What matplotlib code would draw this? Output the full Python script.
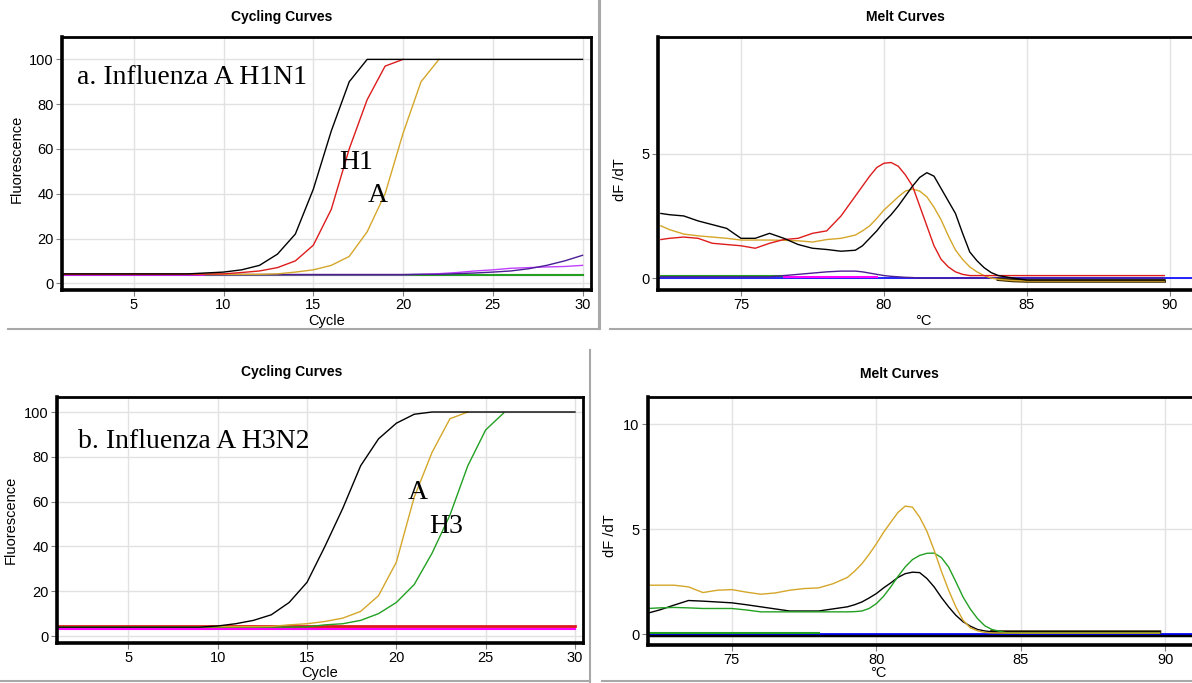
import matplotlib
matplotlib.use("Agg")
import matplotlib.pyplot as plt
from matplotlib.lines import Line2D

plt.rcParams['font.family'] = ['Liberation Sans', 'DejaVu Sans']

W, H = 1192, 683

# ---- data: cycling curves, panel a (H1N1) ----
cycles = list(range(1, 31))
a_black = [4.2, 4.2, 4.2, 4.2, 4.2, 4.2, 4.2, 4.2, 4.6, 5.0, 6.0, 8.0, 13.0, 22.0, 42.0,
           68.0, 90.0, 100, 100, 100, 100, 100, 100, 100, 100, 100, 100, 100, 100, 100]
a_red = [4.1, 4.1, 4.1, 4.1, 4.1, 4.1, 4.1, 4.1, 4.1, 4.2, 4.8, 5.5, 7.0, 10.0, 17.0,
         33.0, 60.0, 82.0, 97.0, 100]
a_gold = [4.0, 4.0, 4.0, 4.0, 4.0, 4.0, 4.0, 4.0, 4.0, 4.0, 4.0, 4.0, 4.2, 5.0, 6.0,
          8.0, 12.0, 23.0, 40.0, 67.0, 90.0, 100]
a_magenta = [3.5, 3.5, 3.5, 3.5, 3.5, 3.5, 3.5, 3.5, 3.5, 3.5, 3.5, 3.5, 3.5, 3.5, 3.5,
             3.5, 3.5, 3.5, 3.5, 3.5, 3.5, 3.5, 3.5, 3.5, 3.5, 3.5, 3.5, 3.5, 3.5, 3.5]
a_green = [3.9, 3.9, 3.9, 3.9, 3.9, 3.9, 3.9, 3.9, 3.9, 3.9, 3.9, 3.9, 3.9, 3.9, 3.9,
           3.9, 3.9, 3.9, 3.9, 3.9, 3.9, 3.9, 3.9, 3.9, 3.9, 3.9, 3.9, 3.9, 3.9, 3.9]
a_purple = [3.9, 3.9, 3.9, 3.9, 3.9, 3.9, 3.9, 3.9, 3.9, 3.9, 3.9, 3.9, 3.9, 3.9, 3.9,
            3.9, 3.9, 3.9, 3.9, 3.9, 4.0, 4.0, 4.3, 4.6, 5.0, 5.5, 6.5, 8.0, 10.0, 12.5]
a_violet = [3.8, 3.8, 3.8, 3.8, 3.8, 3.8, 3.8, 3.8, 3.8, 3.8, 3.8, 3.8, 3.8, 3.8, 3.8,
            3.8, 3.8, 3.8, 3.8, 3.8, 4.0, 4.3, 4.8, 5.5, 6.0, 6.7, 7.0, 7.3, 7.5, 8.0]

# ---- data: cycling curves, panel b (H3N2) ----
b_black = [4.0, 4.0, 4.0, 4.0, 4.0, 4.0, 4.0, 4.0, 4.0, 4.5, 5.5, 7.0, 9.5, 15.0, 24.0,
           40.0, 57.0, 76.0, 88.0, 95.0, 99.0, 100, 100, 100, 100, 100, 100, 100, 100, 100]
b_gold = [4.2, 4.2, 4.2, 4.2, 4.2, 4.2, 4.2, 4.2, 4.2, 4.2, 4.2, 4.2, 4.3, 5.0, 5.5,
          6.5, 8.0, 11.0, 18.0, 33.0, 62.0, 82.0, 97.0, 100]
b_green = [4.0, 4.0, 4.0, 4.0, 4.0, 4.0, 4.0, 4.0, 4.0, 4.0, 4.0, 4.0, 4.0, 4.0, 4.1,
           5.0, 5.5, 7.0, 10.0, 15.0, 23.0, 37.0, 54.0, 76.0, 92.0, 99.5]
b_red = [4.6, 4.6, 4.6, 4.6, 4.6, 4.6, 4.6, 4.6, 4.6, 4.6, 4.6, 4.6, 4.6, 4.6, 4.6,
         4.6, 4.6, 4.6, 4.6, 4.6, 4.6, 4.6, 4.6, 4.6, 4.6, 4.6, 4.6, 4.6, 4.6, 4.6]
b_pink = [4.0, 4.0, 4.0, 4.0, 4.0, 4.0, 4.0, 4.0, 4.0, 4.0, 4.0, 4.0, 4.0, 4.0, 4.0,
          4.0, 4.0, 4.0, 4.0, 4.0, 4.0, 4.0, 4.0, 4.0, 4.0, 4.0, 4.0, 4.0, 4.0, 4.0]
b_magenta = [3.3, 3.3, 3.3, 3.3, 3.3, 3.3, 3.3, 3.3, 3.3, 3.3, 3.3, 3.3, 3.3, 3.3, 3.3,
             3.3, 3.3, 3.3, 3.3, 3.3, 3.3, 3.3, 3.3, 3.3, 3.3, 3.3, 3.3, 3.3, 3.3, 3.3]

# ---- data: melt curves, panel a ----
temp = [72.2, 72.5, 73, 73.5, 74, 74.5, 75, 75.5, 76, 76.5, 77, 77.5, 78, 78.5,
        79, 79.25, 79.5, 79.75, 80, 80.25, 80.5, 80.75, 81, 81.25, 81.5, 81.75,
        82, 82.25, 82.5, 82.75, 83, 83.25, 83.5, 83.75, 84, 84.5, 85, 89.8]
ma_black = [2.6, 2.55, 2.5, 2.3, 2.15, 2.0, 1.6, 1.6, 1.8, 1.6, 1.35, 1.2, 1.15, 1.08,
            1.12, 1.3, 1.6, 1.9, 2.26, 2.55, 2.9, 3.3, 3.7, 4.05, 4.24, 4.1,
            3.6, 3.1, 2.6, 1.8, 1.05, 0.7, 0.42, 0.22, 0.1, 0.0, -0.08, -0.08]
ma_red = [1.55, 1.6, 1.65, 1.6, 1.4, 1.35, 1.3, 1.2, 1.4, 1.55, 1.6, 1.8, 1.9, 2.5,
          3.3, 3.7, 4.1, 4.45, 4.62, 4.65, 4.5, 4.15, 3.7, 2.9, 2.1, 1.3,
          0.75, 0.45, 0.25, 0.15, 0.1, 0.1, 0.1, 0.1, 0.1, 0.1, 0.1, 0.1]
ma_gold = [2.1, 1.95, 1.77, 1.7, 1.65, 1.6, 1.53, 1.53, 1.53, 1.52, 1.5, 1.45, 1.55, 1.6,
           1.73, 1.9, 2.1, 2.4, 2.74, 3.0, 3.27, 3.5, 3.58, 3.5, 3.27, 2.85,
           2.34, 1.7, 1.13, 0.75, 0.45, 0.25, 0.1, 0.0, -0.05, -0.1, -0.12, -0.12]
ma_purple = [0.05, 0.05, 0.05, 0.05, 0.05, 0.05, 0.05, 0.05, 0.05, 0.1, 0.15, 0.2, 0.25,
             0.28, 0.28, 0.25, 0.2, 0.15, 0.1, 0.07, 0.05, 0.03, 0.02, 0.0, 0.0, 0.0,
             0.0, 0.0, 0.0, 0.0, 0.0, 0.0, 0.0, 0.0, 0.0, 0.0, 0.0, 0.0]
ma_green = [0.08, 0.08, 0.08, 0.08, 0.08, 0.08, 0.08, 0.08, 0.08, 0.08]
ma_magenta = [0.05, 0.05, 0.05, 0.05, 0.05, 0.05, 0.05, 0.05, 0.05]

# ---- data: melt curves, panel b ----
temp_b = [72.1, 72.5, 73, 73.5, 74, 74.5, 75, 75.5, 76, 76.5, 77, 77.5, 78, 78.5,
          79, 79.25, 79.5, 79.75, 80, 80.25, 80.5, 80.75, 81, 81.25, 81.5, 81.75,
          82, 82.25, 82.5, 82.75, 83, 83.25, 83.5, 83.75, 84, 84.5, 85, 89.8]
mb_gold = [2.33, 2.33, 2.33, 2.25, 1.98, 2.09, 2.12, 2.0, 1.9, 1.96, 2.09, 2.17, 2.2, 2.4,
           2.7, 3.0, 3.35, 3.8, 4.3, 4.85, 5.33, 5.8, 6.1, 6.05, 5.57, 4.9,
           4.0, 3.0, 2.1, 1.3, 0.66, 0.3, 0.16, 0.08, 0.06, 0.05, 0.05, 0.05]
mb_green = [1.22, 1.25, 1.27, 1.25, 1.22, 1.22, 1.22, 1.15, 1.06, 1.06, 1.06, 1.06, 1.06,
            1.06, 1.06, 1.07, 1.1, 1.22, 1.45, 1.8, 2.25, 2.75, 3.2, 3.55, 3.75, 3.85,
            3.86, 3.65, 3.2, 2.5, 1.77, 1.2, 0.74, 0.4, 0.22, 0.06, 0.05, 0.05]
mb_black = [1.0, 1.15, 1.38, 1.6, 1.57, 1.53, 1.49, 1.4, 1.3, 1.2, 1.1, 1.1, 1.1, 1.2,
            1.3, 1.4, 1.53, 1.72, 1.93, 2.2, 2.44, 2.7, 2.88, 2.95, 2.93, 2.65,
            2.25, 1.75, 1.3, 0.9, 0.59, 0.38, 0.22, 0.15, 0.11, 0.1, 0.1, 0.1]
mb_green_base = [0.06, 0.06, 0.06, 0.06, 0.06, 0.06, 0.06, 0.06, 0.06, 0.06, 0.06, 0.06,
                 0.06]

BLACK = "#000000"
RED = "#dd1c1c"
GOLD = "#d4a62a"
GREEN = "#22a022"
MAGENTA = "#ff00ff"
PURPLE = "#4b1e96"
VIOLET = "#c040ff"
BLUE = "#0000ff"
PINK = "#ff6fa0"
OLIVE = "#3a2a00"


def px_axes(l, t, r, b):
    return fig.add_axes([l / W, 1 - b / H, (r - l) / W, (b - t) / H])


def style(ax):
    ax.set_facecolor("white")
    for s in ["top", "right"]:
        ax.spines[s].set_linewidth(2.0)
    for s in ["left", "bottom"]:
        ax.spines[s].set_linewidth(2.6)
    ax.grid(True, color="#e2e2e2", linewidth=1.0)
    ax.set_axisbelow(True)
    ax.tick_params(direction="out", length=4, width=0.8, color="#808080",
                   labelsize=10.5, pad=2)


fig = plt.figure(figsize=(W / 100, H / 100), dpi=100)
lw = 1.0

# panel a cycling
ax1 = px_axes(62, 37, 591, 290)
style(ax1)
ax1.plot(cycles, a_magenta, color=MAGENTA, lw=1.5)
ax1.plot(cycles[8:], a_green[8:], color=GREEN, lw=1.5)
ax1.plot(cycles, a_violet, color=VIOLET, lw=lw)
ax1.plot(cycles, a_purple, color=PURPLE, lw=lw)
ax1.plot(cycles[:len(a_gold)], a_gold, color=GOLD, lw=lw)
ax1.plot(cycles[:len(a_red)], a_red, color=RED, lw=lw)
ax1.plot(cycles, a_black, color=BLACK, lw=lw)
ax1.set_xlim(1, 30.47)
ax1.set_ylim(-3, 110)
ax1.set_xticks([5, 10, 15, 20, 25, 30])
ax1.set_yticks([0, 20, 40, 60, 80, 100])
ax1.set_xlabel("Cycle", fontsize=10.5)
ax1.set_ylabel("Fluorescence", fontsize=10.5)
ax1.xaxis.set_label_coords(0.5, -0.093)
ax1.yaxis.set_label_coords(-0.072, 0.52)
ax1.text(1.82, 92, "a. Influenza A H1N1", family="Liberation Serif", fontsize=20,
         va="center", ha="left")
ax1.text(17.4, 54, "H1", family="Liberation Serif", fontsize=20, va="center", ha="center")
ax1.text(18.6, 39, "A", family="Liberation Serif", fontsize=20, va="center", ha="center")

# panel a melt
ax2 = px_axes(658, 37, 1200, 290)
style(ax2)
ax2.axhline(0, color=BLUE, lw=1.2)
ax2.plot(temp[:10], ma_green, color=GREEN, lw=1.5)
ax2.plot(temp[9:18], ma_magenta, color=MAGENTA, lw=1.5)
ax2.plot(temp, ma_purple, color=PURPLE, lw=lw)
ax2.plot(temp[-4:], ma_gold[-4:], color=OLIVE, lw=2.5)
ax2.plot(temp, ma_gold, color=GOLD, lw=lw)
ax2.plot(temp, ma_red, color=RED, lw=lw)
ax2.plot(temp, ma_black, color=BLACK, lw=lw)
ax2.set_xlim(72.1, 91.05)
ax2.set_ylim(-0.48, 9.7)
ax2.set_xticks([75, 80, 85, 90])
ax2.set_yticks([0, 5])
ax2.set_xlabel("°C", fontsize=10.5)
ax2.set_ylabel("dF /dT", fontsize=10.5)
ax2.xaxis.set_label_coords(0.49, -0.093)
ax2.yaxis.set_label_coords(-0.057, 0.435)

# panel b cycling
ax3 = px_axes(57, 397, 583, 643)
style(ax3)
ax3.plot(cycles, b_magenta, color=MAGENTA, lw=1.5)
ax3.plot(cycles, b_pink, color=PINK, lw=1.5)
ax3.plot(cycles, b_red, color=RED, lw=2.0)
ax3.plot(cycles[:len(b_green)], b_green, color=GREEN, lw=lw)
ax3.plot(cycles[:len(b_gold)], b_gold, color=GOLD, lw=lw)
ax3.plot(cycles, b_black, color=BLACK, lw=lw)
ax3.set_xlim(1, 30.45)
ax3.set_ylim(-3.1, 106.7)
ax3.set_xticks([5, 10, 15, 20, 25, 30])
ax3.set_yticks([0, 20, 40, 60, 80, 100])
ax3.set_xlabel("Cycle", fontsize=10.5)
ax3.set_ylabel("Fluorescence", fontsize=10.5)
ax3.xaxis.set_label_coords(0.5, -0.093)
ax3.yaxis.set_label_coords(-0.074, 0.5)
ax3.text(2.2, 87, "b. Influenza A H3N2", family="Liberation Serif", fontsize=20,
         va="center", ha="left")
ax3.text(21.2, 64, "A", family="Liberation Serif", fontsize=20, va="center", ha="center")
ax3.text(22.8, 48.7, "H3", family="Liberation Serif", fontsize=20, va="center", ha="center")

# panel b melt
ax4 = px_axes(648, 397, 1200, 645)
style(ax4)
ax4.axhline(-0.06, color=BLACK, lw=2.5)
ax4.axhline(0.02, color=BLUE, lw=1.2)
ax4.plot(temp_b[:13], mb_green_base, color=GREEN, lw=1.5)
ax4.plot(temp_b[-4:], mb_black[-4:], color=OLIVE, lw=2.5)
ax4.plot(temp_b, mb_black, color=BLACK, lw=lw)
ax4.plot(temp_b, mb_green, color=GREEN, lw=lw)
ax4.plot(temp_b, mb_gold, color=GOLD, lw=lw)
ax4.set_xlim(72.1, 91.2)
ax4.set_ylim(-0.52, 11.3)
ax4.set_xticks([75, 80, 85, 90])
ax4.set_yticks([0, 5, 10])
ax4.set_xlabel("°C", fontsize=10.5)
ax4.set_ylabel("dF /dT", fontsize=10.5)
ax4.xaxis.set_label_coords(0.417, -0.085)
ax4.yaxis.set_label_coords(-0.056, 0.44)

# panel titles
for x, y, s in [(282, 17, "Cycling Curves"), (905, 17, "Melt Curves"),
                (292, 372, "Cycling Curves"), (899, 374, "Melt Curves")]:
    fig.text(x / W, 1 - y / H, s, ha="center", va="center", fontsize=10,
             fontweight="bold")

# screenshot borders
grey = "#a8a8a8"
for (x0, y0, x1, y1) in [(8, 329, 599, 329), (599, 0, 599, 329),
                         (610, 329, 1192, 329), (600, 0, 600, 329),
                         (0, 681, 590, 681), (590, 350, 590, 683),
                         (602, 681, 1192, 681)]:
    fig.add_artist(Line2D([x0 / W, x1 / W], [1 - y0 / H, 1 - y1 / H],
                          color=grey, lw=1.5, transform=fig.transFigure))

fig.savefig("out.png", dpi=100, facecolor="white")
